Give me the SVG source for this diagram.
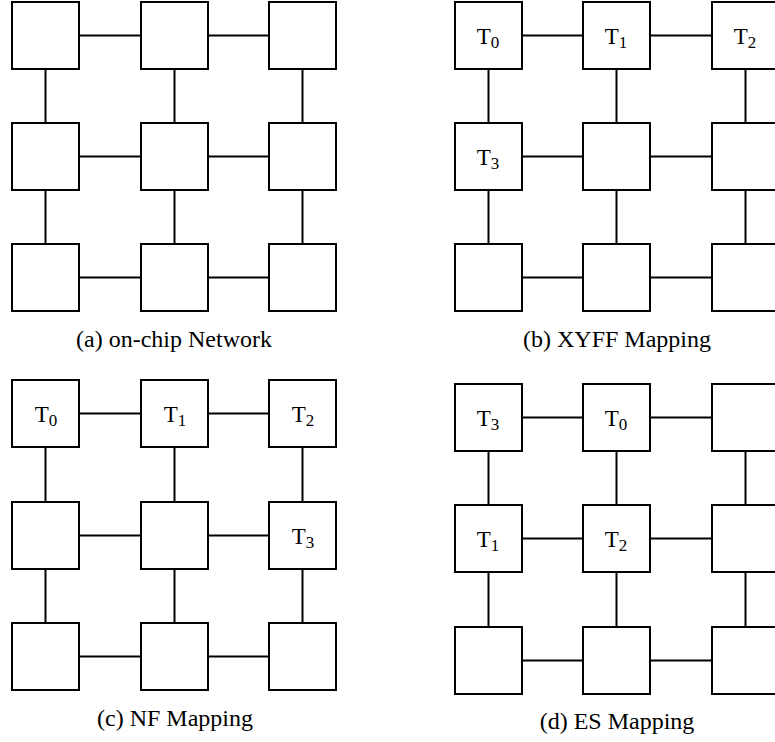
<svg xmlns="http://www.w3.org/2000/svg" width="775" height="742" viewBox="0 0 775 742">
<style>
.n{fill:#fff;stroke:#000;stroke-width:2}
.c line{stroke:#000;stroke-width:2}
.t{font-family:"Liberation Serif","Times New Roman",serif;font-size:23px;text-anchor:middle;fill:#000}
.s{font-size:17px}
.cap{font-family:"Liberation Serif","Times New Roman",serif;font-size:24px;text-anchor:middle;fill:#000}
</style>
<rect width="775" height="742" fill="#fff"/>
<g class="c" id="connectors">
<!-- panel a -->
<line x1="79" y1="35.5" x2="141" y2="35.5"/><line x1="208" y1="35.5" x2="269" y2="35.5"/>
<line x1="79" y1="156.5" x2="141" y2="156.5"/><line x1="208" y1="156.5" x2="269" y2="156.5"/>
<line x1="79" y1="277.5" x2="141" y2="277.5"/><line x1="208" y1="277.5" x2="269" y2="277.5"/>
<line x1="45.5" y1="69" x2="45.5" y2="123"/><line x1="45.5" y1="190" x2="45.5" y2="244"/>
<line x1="174.5" y1="69" x2="174.5" y2="123"/><line x1="174.5" y1="190" x2="174.5" y2="244"/>
<line x1="302.5" y1="69" x2="302.5" y2="123"/><line x1="302.5" y1="190" x2="302.5" y2="244"/>
<!-- panel b -->
<line x1="522" y1="35.5" x2="583" y2="35.5"/><line x1="650" y1="35.5" x2="712" y2="35.5"/>
<line x1="522" y1="156.5" x2="583" y2="156.5"/><line x1="650" y1="156.5" x2="712" y2="156.5"/>
<line x1="522" y1="277.5" x2="583" y2="277.5"/><line x1="650" y1="277.5" x2="712" y2="277.5"/>
<line x1="488.5" y1="69" x2="488.5" y2="123"/><line x1="488.5" y1="190" x2="488.5" y2="244"/>
<line x1="616.5" y1="69" x2="616.5" y2="123"/><line x1="616.5" y1="190" x2="616.5" y2="244"/>
<line x1="745.5" y1="69" x2="745.5" y2="123"/><line x1="745.5" y1="190" x2="745.5" y2="244"/>
<!-- panel c -->
<line x1="79" y1="413.5" x2="141" y2="413.5"/><line x1="208" y1="413.5" x2="269" y2="413.5"/>
<line x1="79" y1="535.5" x2="141" y2="535.5"/><line x1="208" y1="535.5" x2="269" y2="535.5"/>
<line x1="79" y1="656.5" x2="141" y2="656.5"/><line x1="208" y1="656.5" x2="269" y2="656.5"/>
<line x1="45.5" y1="447" x2="45.5" y2="502"/><line x1="45.5" y1="569" x2="45.5" y2="623"/>
<line x1="174.5" y1="447" x2="174.5" y2="502"/><line x1="174.5" y1="569" x2="174.5" y2="623"/>
<line x1="302.5" y1="447" x2="302.5" y2="502"/><line x1="302.5" y1="569" x2="302.5" y2="623"/>
<!-- panel d -->
<line x1="522" y1="417.5" x2="583" y2="417.5"/><line x1="650" y1="417.5" x2="712" y2="417.5"/>
<line x1="522" y1="538.5" x2="583" y2="538.5"/><line x1="650" y1="538.5" x2="712" y2="538.5"/>
<line x1="522" y1="660.5" x2="583" y2="660.5"/><line x1="650" y1="660.5" x2="712" y2="660.5"/>
<line x1="488.5" y1="451" x2="488.5" y2="505"/><line x1="488.5" y1="572" x2="488.5" y2="627"/>
<line x1="616.5" y1="451" x2="616.5" y2="505"/><line x1="616.5" y1="572" x2="616.5" y2="627"/>
<line x1="745.5" y1="451" x2="745.5" y2="505"/><line x1="745.5" y1="572" x2="745.5" y2="627"/>
</g>
<!-- panel a nodes -->
<g id="a00"><rect class="n" x="12" y="2" width="67" height="67"/></g>
<g id="a01"><rect class="n" x="141" y="2" width="67" height="67"/></g>
<g id="a02"><rect class="n" x="269" y="2" width="67" height="67"/></g>
<g id="a10"><rect class="n" x="12" y="123" width="67" height="67"/></g>
<g id="a11"><rect class="n" x="141" y="123" width="67" height="67"/></g>
<g id="a12"><rect class="n" x="269" y="123" width="67" height="67"/></g>
<g id="a20"><rect class="n" x="12" y="244" width="67" height="67"/></g>
<g id="a21"><rect class="n" x="141" y="244" width="67" height="67"/></g>
<g id="a22"><rect class="n" x="269" y="244" width="67" height="67"/></g>
<!-- panel b nodes -->
<g id="b00"><rect class="n" x="455" y="2" width="67" height="67"/><text class="t" x="488" y="43.5">T<tspan class="s" dy="4">0</tspan></text></g>
<g id="b01"><rect class="n" x="583" y="2" width="67" height="67"/><text class="t" x="616" y="43.5">T<tspan class="s" dy="4">1</tspan></text></g>
<g id="b02"><rect class="n" x="712" y="2" width="67" height="67"/><text class="t" x="745" y="43.5">T<tspan class="s" dy="4">2</tspan></text></g>
<g id="b10"><rect class="n" x="455" y="123" width="67" height="67"/><text class="t" x="488" y="164.5">T<tspan class="s" dy="4">3</tspan></text></g>
<g id="b11"><rect class="n" x="583" y="123" width="67" height="67"/></g>
<g id="b12"><rect class="n" x="712" y="123" width="67" height="67"/></g>
<g id="b20"><rect class="n" x="455" y="244" width="67" height="67"/></g>
<g id="b21"><rect class="n" x="583" y="244" width="67" height="67"/></g>
<g id="b22"><rect class="n" x="712" y="244" width="67" height="67"/></g>
<!-- panel c nodes -->
<g id="c00"><rect class="n" x="12" y="380" width="67" height="67"/><text class="t" x="46" y="421.5">T<tspan class="s" dy="4">0</tspan></text></g>
<g id="c01"><rect class="n" x="141" y="380" width="67" height="67"/><text class="t" x="175" y="421.5">T<tspan class="s" dy="4">1</tspan></text></g>
<g id="c02"><rect class="n" x="269" y="380" width="67" height="67"/><text class="t" x="303" y="421.5">T<tspan class="s" dy="4">2</tspan></text></g>
<g id="c10"><rect class="n" x="12" y="502" width="67" height="67"/></g>
<g id="c11"><rect class="n" x="141" y="502" width="67" height="67"/></g>
<g id="c12"><rect class="n" x="269" y="502" width="67" height="67"/><text class="t" x="303" y="543.5">T<tspan class="s" dy="4">3</tspan></text></g>
<g id="c20"><rect class="n" x="12" y="623" width="67" height="67"/></g>
<g id="c21"><rect class="n" x="141" y="623" width="67" height="67"/></g>
<g id="c22"><rect class="n" x="269" y="623" width="67" height="67"/></g>
<!-- panel d nodes -->
<g id="d00"><rect class="n" x="455" y="384" width="67" height="67"/><text class="t" x="488" y="425.5">T<tspan class="s" dy="4">3</tspan></text></g>
<g id="d01"><rect class="n" x="583" y="384" width="67" height="67"/><text class="t" x="616" y="425.5">T<tspan class="s" dy="4">0</tspan></text></g>
<g id="d02"><rect class="n" x="712" y="384" width="67" height="67"/></g>
<g id="d10"><rect class="n" x="455" y="505" width="67" height="67"/><text class="t" x="488" y="546.5">T<tspan class="s" dy="4">1</tspan></text></g>
<g id="d11"><rect class="n" x="583" y="505" width="67" height="67"/><text class="t" x="616" y="546.5">T<tspan class="s" dy="4">2</tspan></text></g>
<g id="d12"><rect class="n" x="712" y="505" width="67" height="67"/></g>
<g id="d20"><rect class="n" x="455" y="627" width="67" height="67"/></g>
<g id="d21"><rect class="n" x="583" y="627" width="67" height="67"/></g>
<g id="d22"><rect class="n" x="712" y="627" width="67" height="67"/></g>
<!-- captions -->
<g id="captions">
<text class="cap" x="174" y="347">(a) on-chip Network</text>
<text class="cap" x="617" y="347">(b) XYFF Mapping</text>
<text class="cap" x="175" y="726">(c) NF Mapping</text>
<text class="cap" x="617" y="729">(d) ES Mapping</text>
</g>
</svg>
